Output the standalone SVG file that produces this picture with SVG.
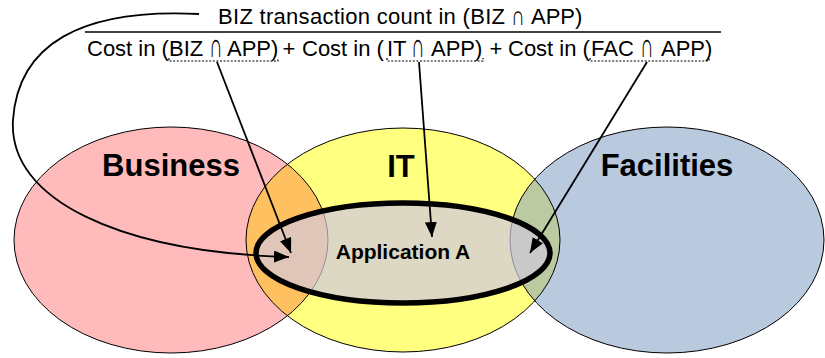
<svg xmlns="http://www.w3.org/2000/svg" width="825" height="358" viewBox="0 0 825 358">
  <style>
    .outline { fill: none; stroke: #000; stroke-width: 1; }
    .inner { fill: none; stroke: #8f90a4; stroke-width: 1; }
    .area { font-family: "Liberation Sans", Arial, sans-serif; font-weight: bold; font-size: 31px; fill: #000; text-anchor: middle; }
    .app { font-family: "Liberation Sans", Arial, sans-serif; font-weight: bold; font-size: 21px; fill: #000; text-anchor: middle; }
    .eq { font-family: "Liberation Sans", Arial, sans-serif; font-size: 22px; fill: #000; }
    .cap { font-family: "Liberation Sans", Arial, sans-serif; font-size: 22px; fill: #000; text-anchor: middle; }
    .mid { text-anchor: middle; }
    .wire { fill: none; stroke: #000; stroke-width: 1.8; }
    .dots { fill: none; stroke: #000; stroke-width: 1.2; stroke-dasharray: 2 1.6; }
  </style>
  <defs>
    <marker id="head" markerUnits="userSpaceOnUse" markerWidth="16" markerHeight="12" refX="15" refY="6" orient="auto">
      <path d="M0,0 L15,6 L0,12 Z" fill="#000"/>
    </marker>
    <clipPath id="clipBiz"><ellipse cx="171" cy="240" rx="157" ry="113"/></clipPath>
    <clipPath id="clipFac"><ellipse cx="667" cy="240" rx="157" ry="113"/></clipPath>
    <clipPath id="clipApp"><ellipse cx="403" cy="253" rx="147" ry="50"/></clipPath>
  </defs>

  <!-- Business domain -->
  <g id="business">
    <ellipse cx="171" cy="240" rx="157" ry="113" fill="#ffbbbb"/>
  </g>

  <!-- IT domain -->
  <g id="it">
    <ellipse cx="403" cy="240" rx="157" ry="112" fill="#ffff80"/>
  </g>

  <!-- Facilities domain -->
  <g id="facilities">
    <ellipse cx="667" cy="240" rx="157" ry="113" fill="#b9c9de"/>
  </g>

  <!-- Shared zones and the domain outlines -->
  <g id="overlaps">
    <ellipse cx="403" cy="240" rx="157" ry="112" fill="#ffc060" clip-path="url(#clipBiz)"/>
    <ellipse cx="403" cy="240" rx="157" ry="112" fill="#bccaa2" clip-path="url(#clipFac)"/>
    <ellipse class="outline" cx="171" cy="240" rx="157" ry="113"/>
    <ellipse class="outline" cx="667" cy="240" rx="157" ry="113"/>
    <ellipse class="outline" cx="403" cy="240" rx="157" ry="112"/>
  </g>

  <!-- Application A, lying inside IT and touching both neighbours -->
  <g id="application">
    <ellipse cx="403" cy="253" rx="147" ry="50" fill="#ddd8c3"/>
    <g clip-path="url(#clipApp)">
      <ellipse cx="171" cy="240" rx="157" ry="113" fill="#dfc6b9"/>
      <ellipse cx="667" cy="240" rx="157" ry="113" fill="#c9c9ca"/>
      <ellipse class="inner" cx="171" cy="240" rx="157" ry="113"/>
      <ellipse class="inner" cx="667" cy="240" rx="157" ry="113"/>
    </g>
    <ellipse cx="403" cy="253" rx="147" ry="50" fill="none" stroke="#000" stroke-width="5.5"/>
    <text class="app" x="403" y="259">Application A</text>
  </g>

  <g id="labels">
    <text class="area" x="171" y="176">Business</text>
    <text class="area" x="401" y="177">IT</text>
    <text class="area" x="667" y="176">Facilities</text>
  </g>

  <!-- Ratio: transaction count over the summed costs -->
  <g id="formula">
    <text class="eq" x="218" y="24" textLength="287" lengthAdjust="spacing">BIZ transaction count in (BIZ</text>
    <text class="cap" transform="translate(518,25) scale(0.85,1.25)">∩</text>
    <text class="eq" x="531" y="24">APP)</text>
    <path d="M85,32 H721" stroke="#000" stroke-width="1.5"/>

    <text class="eq" x="87" y="56">Cost in (</text>
    <text class="eq" x="169" y="56">BIZ</text>
    <text class="cap" transform="translate(216,57) scale(0.85,1.55)">∩</text>
    <text class="eq" x="227" y="56">APP)</text>
    <text class="eq mid" x="289" y="56">+</text>

    <text class="eq" x="302" y="56">Cost in (</text>
    <text class="eq" x="387" y="56">IT</text>
    <text class="cap" transform="translate(418,57) scale(0.85,1.55)">∩</text>
    <text class="eq" x="431" y="56">APP)</text>
    <text class="eq mid" x="496" y="56">+</text>

    <text class="eq" x="508" y="56">Cost in (</text>
    <text class="eq" x="591" y="56">FAC</text>
    <text class="cap" transform="translate(647,57) scale(0.85,1.55)">∩</text>
    <text class="eq" x="661" y="56">APP)</text>

    <path class="dots" d="M169,58 V61 H278 V58"/>
    <path class="dots" d="M387,58 V61 H483 V58"/>
    <path class="dots" d="M590,58 V61 H709 V58"/>
  </g>

  <g id="connectors">
    <path class="wire" d="M217,62 L291,253" marker-end="url(#head)"/>
    <path class="wire" d="M419,62 L432,237" marker-end="url(#head)"/>
    <path class="wire" d="M647,62 L530,253" marker-end="url(#head)"/>
    <path class="wire" d="M199,14 C80,8 18,45 13,120 C8,200 120,252 289,257" marker-end="url(#head)"/>
  </g>
</svg>
